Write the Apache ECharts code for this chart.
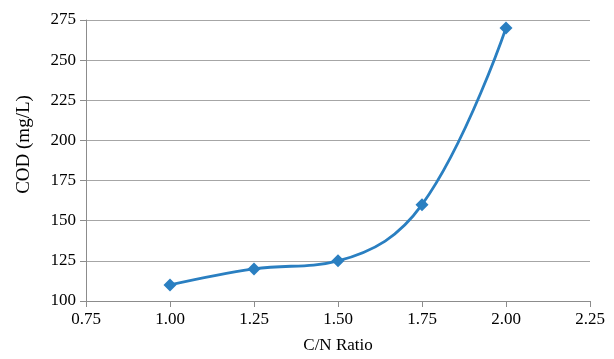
<!DOCTYPE html>
<html>
<head>
<meta charset="utf-8">
<script src="https://cdn.jsdelivr.net/npm/echarts@6/dist/echarts.min.js"></script>
<style>html,body{margin:0;padding:0;background:#fff}#c{width:614px;height:359px}</style>
</head>
<body>
<div id="c"></div>
<script>
var cnRatio = [1.00, 1.25, 1.50, 1.75, 2.00];
var cod = [110, 120, 125, 160, 270];
var xTitle = 'C/N Ratio';
var yTitle = 'COD (mg/L)';

var chart = echarts.init(document.getElementById('c'), null, {renderer: 'canvas'});
var font = '"Liberation Serif", "Times New Roman", serif';
chart.setOption({
  animation: false,
  grid: {left: 86, right: 24, top: 20, bottom: 55, containLabel: false},
  xAxis: {
    type: 'value', min: 0.75, max: 2.25, interval: 0.25,
    name: xTitle, nameLocation: 'middle', nameGap: 36,
    nameTextStyle: {fontFamily: font, fontSize: 17, color: '#000'},
    axisLine: {show: true, lineStyle: {color: '#8c8c8c', width: 1}},
    axisTick: {show: true, length: 6, lineStyle: {color: '#8c8c8c'}},
    axisLabel: {fontFamily: font, fontSize: 17, color: '#000', margin: 10,
      formatter: function (v) { return v.toFixed(2); }},
    splitLine: {show: false}
  },
  yAxis: {
    type: 'value', min: 100, max: 275, interval: 25,
    name: yTitle, nameLocation: 'middle', nameGap: 52, nameRotate: 90,
    nameTextStyle: {fontFamily: font, fontSize: 19, color: '#000', padding: [0, 0, 0, 32]},
    axisLine: {show: true, lineStyle: {color: '#8c8c8c', width: 1}},
    axisTick: {show: true, length: 6, lineStyle: {color: '#8c8c8c'}},
    axisLabel: {fontFamily: font, fontSize: 17, color: '#000', margin: 10},
    splitLine: {show: true, lineStyle: {color: '#a6a6a6', width: 1}}
  },
  series: [{
    type: 'line',
    data: cnRatio.map(function (x, i) { return [x, cod[i]]; }),
    smooth: 0.4,
    symbol: 'diamond', symbolSize: 13,
    lineStyle: {color: '#2a7fc1', width: 2.8},
    itemStyle: {color: '#2a7fc1'}
  }]
});
</script>
</body>
</html>
